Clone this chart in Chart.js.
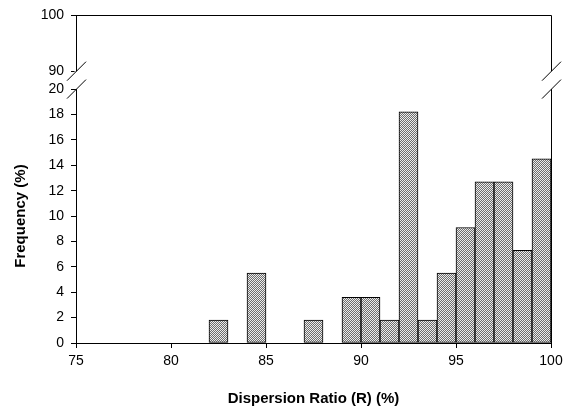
<!DOCTYPE html>
<html>
<head>
<meta charset="utf-8">
<script src="https://cdn.jsdelivr.net/npm/chart.js@4"></script>
<style>
  body { margin: 0; background: #fff; }
</style>
</head>
<body>
<canvas id="histCan" width="571" height="413"></canvas>
<script>
// histogram bins (left edge, 1% wide) and frequency in %
const binStart = [82, 84, 87, 89, 90, 91, 92, 93, 94, 95, 96, 97, 98, 99]
const frequency = [1.8, 5.5, 1.8, 3.6, 3.6, 1.8, 18.2, 1.8, 5.5, 9.1, 12.7, 12.7, 7.3, 14.5]
const xTicks = [75, 80, 85, 90, 95, 100]
const lowerTicks = [0, 2, 4, 6, 8, 10, 12, 14, 16, 18, 20]
const upperTicks = [90, 100]

const canvasEl = document.getElementById('histCan')
const ctx = canvasEl.getContext('2d')

// grey stipple like the printed bars (1px checker)
function makeStipple() {
  const p = document.createElement('canvas')
  p.width = 2; p.height = 2
  const c = p.getContext('2d')
  c.fillStyle = '#ececec'; c.fillRect(0, 0, 2, 2)
  c.fillStyle = '#6e6e6e'; c.fillRect(1, 0, 1, 1); c.fillRect(0, 1, 1, 1)
  return ctx.createPattern(p, 'repeat')
}

const font = "'Liberation Sans', Arial, sans-serif"
const tickFont = { family: font, size: 14 }
const titleFont = { family: font, size: 15, weight: 'bold' }

const axisGrid = { display: true, drawOnChartArea: false, drawTicks: true, tickLength: 5, color: '#000', lineWidth: 1, offset: false }
const axisBorder = { display: true, color: '#000', width: 1 }

// frame on top/right + the break marks at 90 / 20
const brokenAxis = {
  id: 'brokenAxis',
  afterDraw(chart) {
    const { ctx, chartArea: a, scales } = chart
    const yHi = scales.y2.getPixelForValue(90)
    const yLo = scales.y.getPixelForValue(20)
    const r = Math.round(a.right) + 0.5
    const l = Math.round(a.left) + 0.5
    ctx.save()
    ctx.strokeStyle = '#000'
    ctx.lineWidth = 1
    ctx.beginPath()
    ctx.moveTo(l, Math.round(a.top) + 0.5)
    ctx.lineTo(r, Math.round(a.top) + 0.5)
    ctx.lineTo(r, a.bottom)
    ctx.stroke()
    ctx.fillStyle = '#fff'
    for (const x of [l, r]) {
      ctx.fillRect(x - 2, yHi, 4, yLo - yHi)
      for (const y of [yHi, yLo]) {
        ctx.beginPath()
        ctx.moveTo(x - 9.5, y + 9.5)
        ctx.lineTo(x + 9.5, y - 9.5)
        ctx.stroke()
      }
    }
    ctx.restore()
  }
}

new Chart(canvasEl, {
  type: 'bar',
  data: {
    datasets: [{
      label: 'Frequency',
      data: binStart.map((b, i) => ({ x: b + 0.5, y: frequency[i] })),
      backgroundColor: makeStipple(),
      borderColor: '#000',
      borderWidth: 1,
      borderSkipped: false,
      barPercentage: 1,
      categoryPercentage: 1,
      xAxisID: 'x',
      yAxisID: 'y'
    }]
  },
  options: {
    responsive: false,
    animation: false,
    events: [],
    layout: { padding: { top: 14, right: 20, left: 0, bottom: 0 } },
    plugins: { legend: { display: false }, tooltip: { enabled: false } },
    scales: {
      x: {
        type: 'linear',
        position: 'bottom',
        offset: false,
        min: 75,
        max: 100,
        afterBuildTicks: s => { s.ticks = xTicks.map(v => ({ value: v })) },
        afterFit: s => { s.height = 70 },
        grid: axisGrid,
        border: axisBorder,
        ticks: { color: '#000', font: tickFont, padding: 5, maxRotation: 0, autoSkip: false },
        title: { display: true, text: 'Dispersion Ratio (R) (%)', color: '#000', font: titleFont, padding: { bottom: 5 } }
      },
      y: {
        type: 'linear',
        position: 'left',
        stack: 'freq',
        stackWeight: 255,
        min: 0,
        max: 20,
        afterBuildTicks: s => { s.ticks = lowerTicks.map(v => ({ value: v })) },
        afterFit: s => { s.width = 76 },
        grid: axisGrid,
        border: axisBorder,
        ticks: { color: '#000', font: tickFont, padding: 7, autoSkip: false },
        title: { display: true, text: 'Frequency (%)', color: '#000', font: titleFont, padding: { top: 12 } }
      },
      y2: {
        type: 'linear',
        position: 'left',
        stack: 'freq',
        stackWeight: 74,
        min: 86.79,
        max: 100,
        afterBuildTicks: s => { s.ticks = upperTicks.map(v => ({ value: v })) },
        afterFit: s => { s.width = 76 },
        grid: axisGrid,
        border: axisBorder,
        ticks: { color: '#000', font: tickFont, padding: 7, autoSkip: false }
      }
    }
  },
  plugins: [brokenAxis]
})
</script>
</body>
</html>
